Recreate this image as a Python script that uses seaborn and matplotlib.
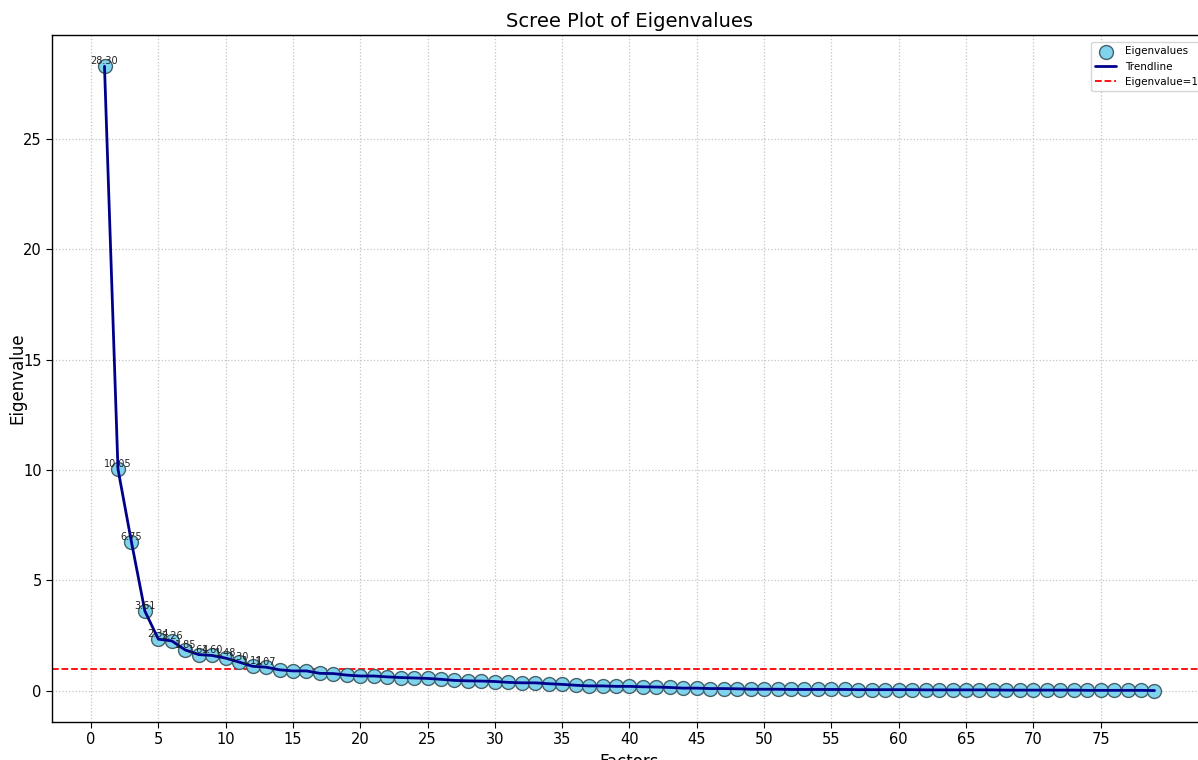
import numpy as np
import pandas as pd
import matplotlib
matplotlib.use("Agg")
import matplotlib.pyplot as plt
import seaborn as sns

factors = list(range(1, 80))
eigenvalues = [
    28.30, 10.05, 6.75, 3.61, 2.34, 2.26, 1.85, 1.64, 1.60, 1.48,
    1.30, 1.11, 1.07, 0.95, 0.90, 0.90, 0.79, 0.78, 0.71, 0.67,
    0.67, 0.63, 0.60, 0.58, 0.56, 0.52, 0.47, 0.45, 0.44, 0.42,
    0.38, 0.36, 0.36, 0.32, 0.29, 0.25, 0.22, 0.22, 0.20, 0.20,
    0.18, 0.17, 0.15, 0.12, 0.12, 0.10, 0.10, 0.09, 0.07, 0.07,
    0.07, 0.06, 0.06, 0.06, 0.06, 0.06, 0.05, 0.05, 0.05, 0.05,
    0.05, 0.04, 0.04, 0.04, 0.04, 0.04, 0.04, 0.03, 0.03, 0.03,
    0.03, 0.03, 0.03, 0.02, 0.02, 0.02, 0.02, 0.02, 0.01,
]
threshold = 1.0

df = pd.DataFrame({"Factor": factors, "Eigenvalue": eigenvalues})

sns.set_style("white")
plt.rcParams['font.family'] = ['DejaVu Sans']
plt.rcParams['text.color'] = 'black'
plt.rcParams['axes.labelcolor'] = 'black'
plt.rcParams['xtick.color'] = 'black'
plt.rcParams['ytick.color'] = 'black'

fig = plt.figure(figsize=(11.98, 7.6), dpi=100)
ax = fig.add_axes([52/1198, 1 - 722/760, (1207 - 52)/1198, (722 - 35)/760])

sns.scatterplot(data=df, x="Factor", y="Eigenvalue", ax=ax, s=100,
                color="#7fd3ec", edgecolor="#45626b", linewidth=1.0,
                label="Eigenvalues", zorder=3)
sns.lineplot(data=df, x="Factor", y="Eigenvalue", ax=ax, color="darkblue",
             linewidth=2, label="Trendline", zorder=4)
ax.axhline(threshold, color="red", linestyle="--", linewidth=1.3,
           label="Eigenvalue=1", zorder=2)

for f, v in zip(factors, eigenvalues):
    if v > threshold:
        ax.text(f, v, f"{v:.2f}", ha="center", va="bottom", fontsize=7,
                color="#222222", zorder=5)

ax.set_xticks(range(0, 80, 5))
ax.set_yticks(range(0, 30, 5))
ax.set_xlim(-2.9, 82.9)
ax.set_ylim(-1.415, 29.72)
ax.grid(True, linestyle=":", color="#c4c4c4", linewidth=0.9)
ax.tick_params(axis="both", labelsize=10.5, length=4, direction="out",
               bottom=True, left=True, colors="black")
for sp in ax.spines.values():
    sp.set_color("black")
    sp.set_linewidth(1.0)

ax.set_title("Scree Plot of Eigenvalues", fontsize=14, color="black")
ax.set_xlabel("Factors", fontsize=12)
ax.set_ylabel("Eigenvalue", fontsize=12)
ax.yaxis.set_label_coords(-0.0225, 0.5)
leg = ax.legend(loc="upper right", fontsize=7.5, frameon=True,
                bbox_to_anchor=(1.0, 0.997))

fig.savefig("out.png", dpi=100)
